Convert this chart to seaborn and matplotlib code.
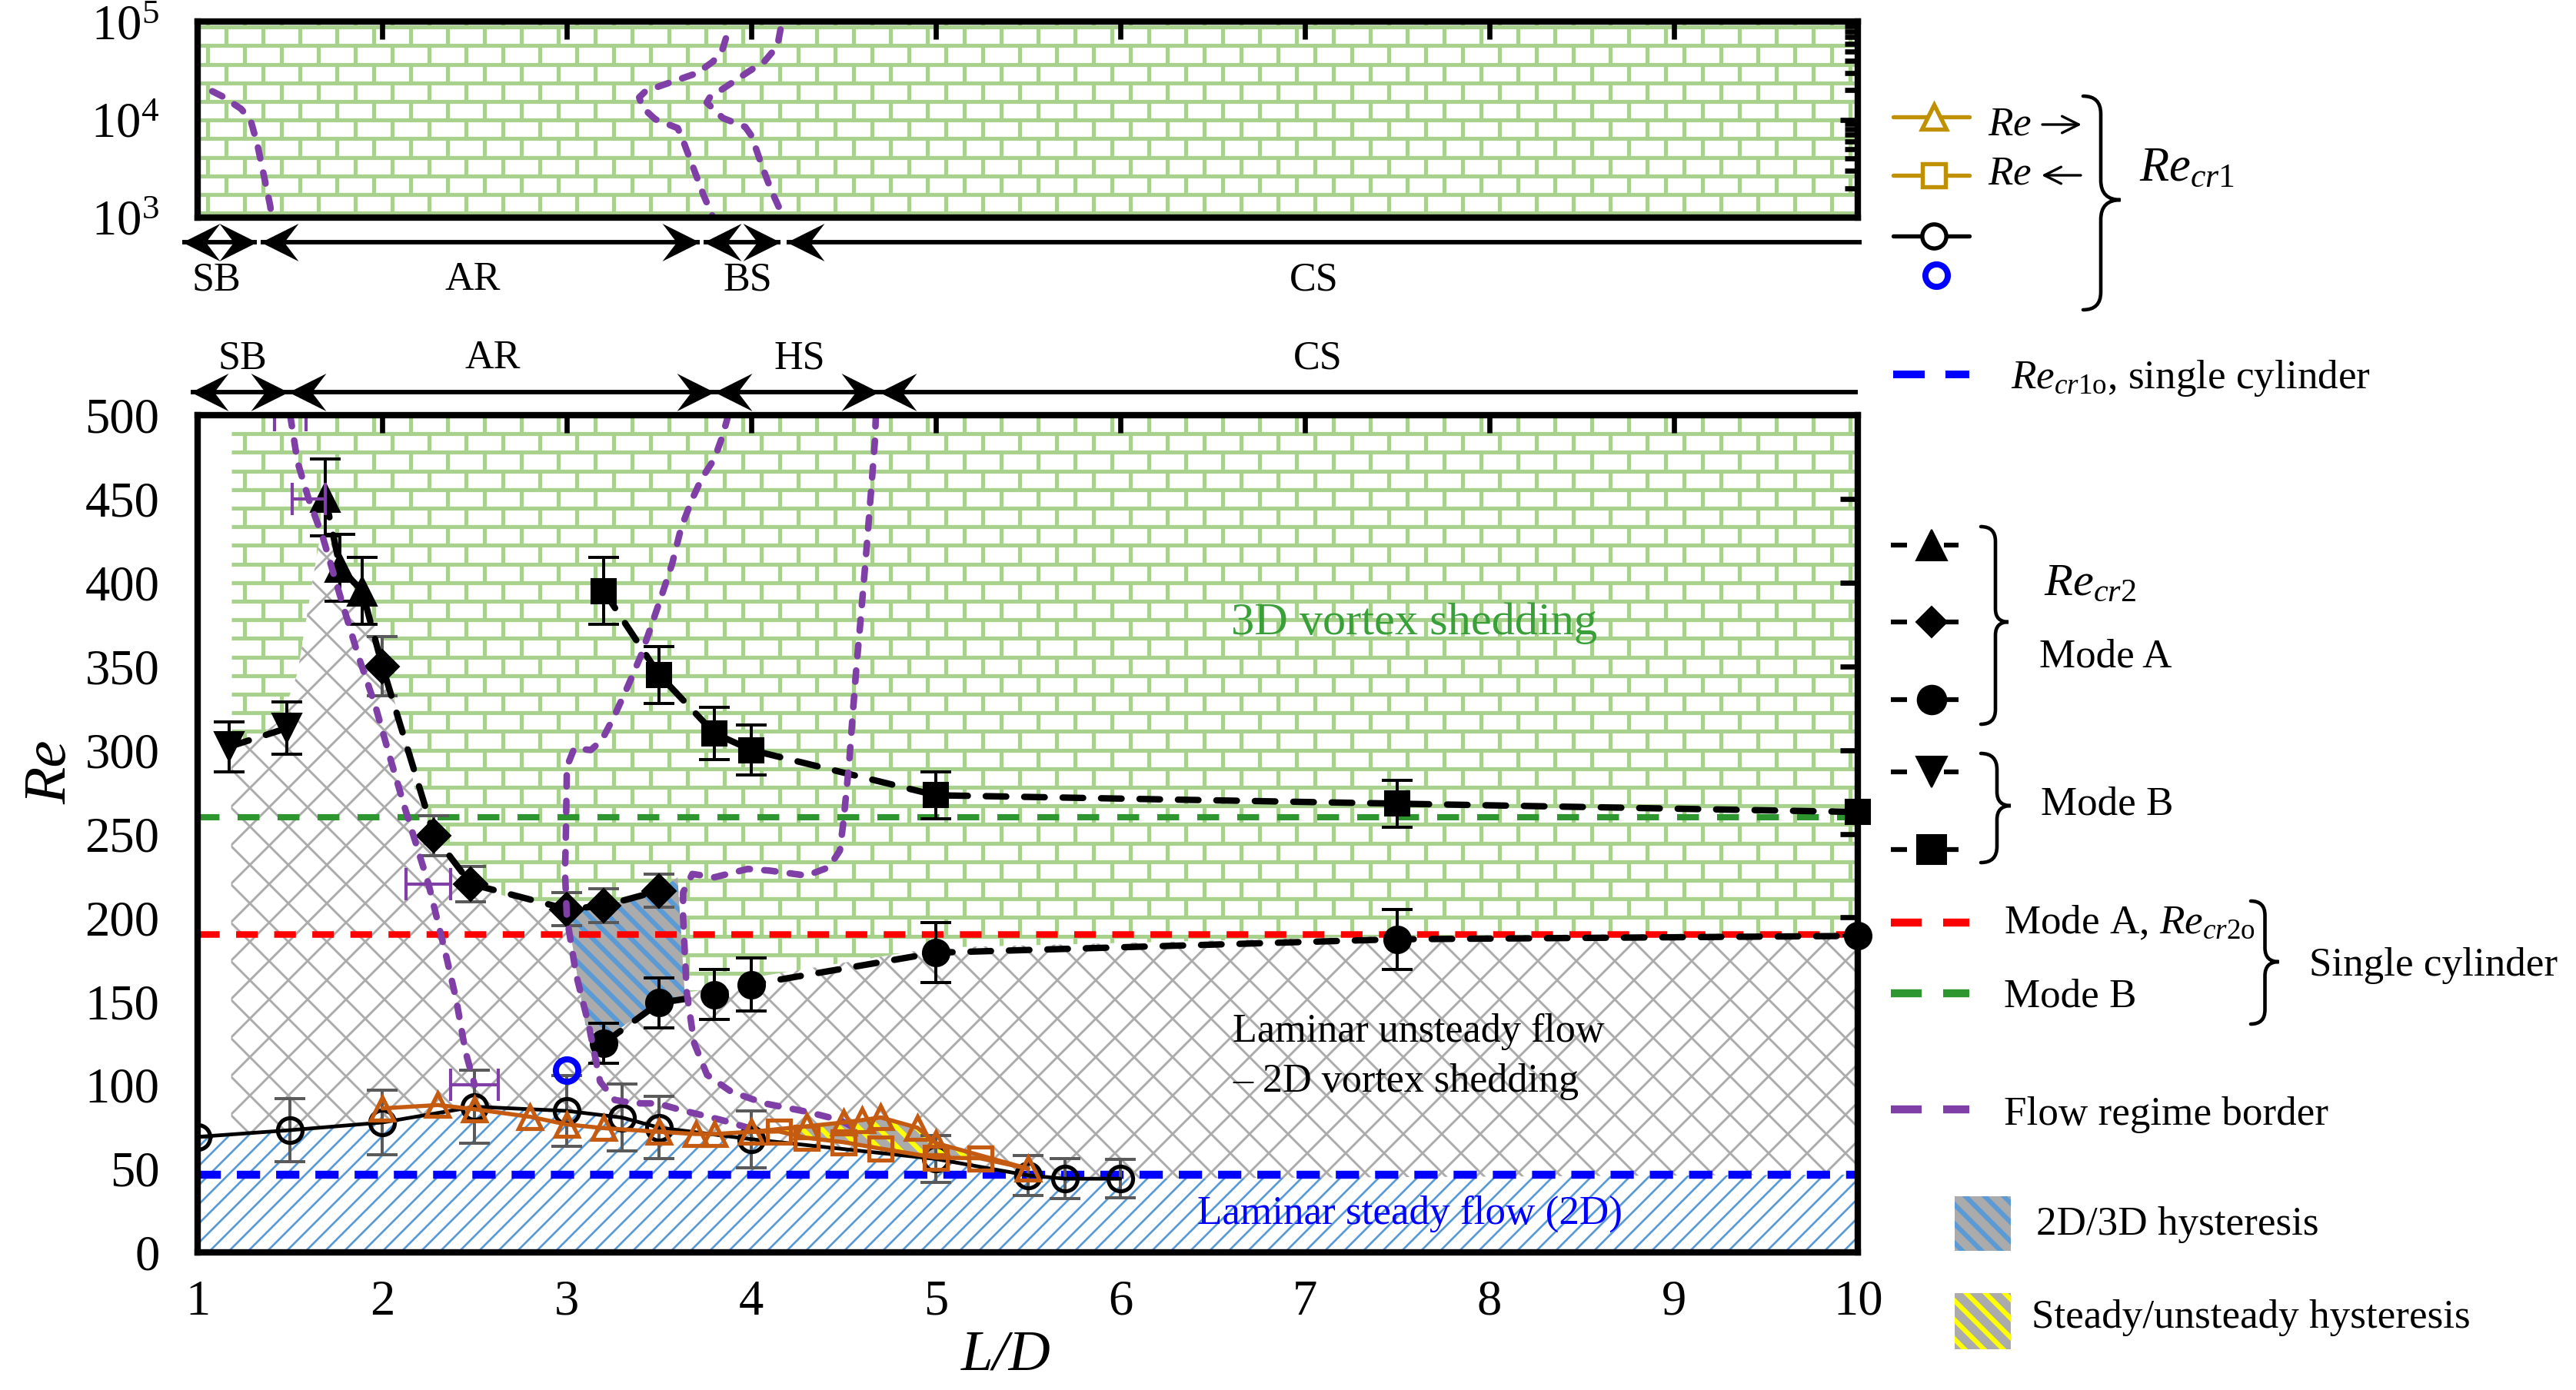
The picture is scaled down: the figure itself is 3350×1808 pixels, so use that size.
import numpy as np
import matplotlib
matplotlib.use("Agg")
import matplotlib.pyplot as plt
import seaborn as sns
from matplotlib.path import Path
from matplotlib.patches import Polygon, Rectangle, PathPatch
from matplotlib.collections import LineCollection
from matplotlib.markers import MarkerStyle
from matplotlib.ticker import LogLocator, NullFormatter

# ======================= DATA =======================
# Re_cr1 : onset of vortex shedding (black open circles)
cr1_x = [1.0, 1.5, 2.0, 2.5, 3.0, 3.3, 3.5, 4.0, 5.0, 5.5, 5.7, 6.0]
cr1_re = [69, 73, 77.6, 87, 84.5, 80.5, 74.5, 67.6, 55.8, 46, 44, 44]
cr1_err = [0, 19, 19.5, 22, 21, 20, 18.5, 17, 14, 12, 12, 11.5]
# Re increasing (open triangles)
up_x = [2.0, 2.3, 2.5, 2.8, 3.0, 3.2, 3.5, 3.7, 3.8, 4.0, 4.3, 4.5, 4.6, 4.7, 4.9, 5.0, 5.5]
up_re = [86, 88, 85.5, 81, 76.4, 74.2, 72, 70.7, 70.7, 72, 75.3, 77.6, 79, 80.6, 74.5, 65.3, 50]
# Re decreasing (open squares); first and last point shared with the triangle branch
down_x = [4.0, 4.15, 4.3, 4.5, 4.7, 5.0, 5.24, 5.5]
down_re = [72, 72.2, 68.4, 65.8, 62, 56.6, 56.2, 50]
# single-point Re_cr1 (blue open circle)
blue_x = [3.0]
blue_re = [109]

# Re_cr2 mode A
modeA_tri_x = [1.69, 1.77, 1.89]
modeA_tri_re = [451, 409, 395]
modeA_tri_err = [23, 20, 20]
modeA_dia_x = [2.0, 2.28, 2.48, 3.0, 3.2, 3.5]
modeA_dia_re = [350, 249, 220, 205, 207, 216]
modeA_dia_err = [17.6, 12, 10.5, 10, 10, 10]
modeA_cir_x = [3.2, 3.5, 3.8, 4.0, 5.0, 7.5, 10.0]
modeA_cir_re = [125, 149, 154, 160, 179, 187, 189]
modeA_cir_err = [12, 15, 15, 16, 18, 18, 0]
# Re_cr2 mode B
modeB_tri_x = [1.17, 1.48]
modeB_tri_re = [302, 313]
modeB_tri_err = [15, 15.7]
modeB_sq_x = [3.2, 3.5, 3.8, 4.0, 5.0, 7.5, 10.0]
modeB_sq_re = [395, 345, 310, 300, 273, 268, 263]
modeB_sq_err = [20, 17, 15.5, 15, 14, 14, 0]

# single cylinder references
re_cr1o = 46.5
re_modeA_o = 190
re_modeB_o = 260

# flow regime borders, main panel
border1_x = [1.50, 1.54, 1.60, 1.68, 1.76, 1.87, 1.96, 2.04, 2.12, 2.25, 2.35, 2.40, 2.45, 2.50]
border1_re = [500, 472, 450, 426, 396, 356, 327, 296, 266, 220, 175, 151, 120, 100]
border2_x = [3.875, 3.845, 3.80, 3.73, 3.68, 3.62, 3.57, 3.51, 3.46, 3.40, 3.33, 3.26, 3.19, 3.13,
             3.04, 3.00, 2.995, 2.99, 3.00, 3.05, 3.12, 3.16, 3.18, 3.26, 3.37, 3.49, 3.62, 3.73, 3.84, 3.98]
border2_re = [500, 488, 474, 462, 450, 433, 411, 391, 375, 356, 338, 321, 306, 300,
              301, 290, 252, 227, 200, 166, 135, 113, 102, 91, 89, 89, 85, 82, 79, 74.5]
border3_x = [4.675, 4.67, 4.65, 4.62, 4.59, 4.57, 4.55, 4.53, 4.50, 4.48, 4.42, 4.30, 4.10, 3.98, 3.80,
             3.68, 3.63, 3.63, 3.65, 3.69, 3.76, 3.89, 4.07, 4.30, 4.48, 4.58]
border3_re = [500, 485, 456, 414, 375, 350, 322, 292, 258, 240, 230, 225, 228, 229, 224,
              226, 215, 200, 155, 125, 106, 96, 89, 84, 79, 73]
border_err_x = [1.50, 1.60, 2.25, 2.50]
border_err_re = [500, 450, 220, 100]
border_err_dx = [0.085, 0.09, 0.12, 0.13]

# flow regime borders, top (high-Re) panel
topA_x = [1.078, 1.130, 1.234, 1.286, 1.321, 1.356, 1.391, 1.401]
topA_re = [19500, 17400, 12900, 9800, 5700, 2770, 1340, 1000]
topB_x = [3.862, 3.845, 3.793, 3.706, 3.566, 3.427, 3.392, 3.410, 3.479, 3.601, 3.636, 3.688, 3.740, 3.793]
topB_re = [67600, 53100, 39300, 29900, 24200, 19600, 16900, 13300, 10100, 8200, 5700, 3130, 1710, 1000]
topC_x = [4.158, 4.141, 4.071, 3.984, 3.880, 3.775, 3.758, 3.845, 3.967, 4.001, 4.054, 4.106, 4.175]
topC_re = [83400, 56400, 39300, 30900, 22800, 16900, 14960, 10400, 8430, 6830, 3520, 1930, 1000]

# upper boundary of the laminar unsteady (2D shedding) region
unsteady_top_x = [1.18, 1.34, 1.45, 1.54, 1.62, 1.66, 1.71, 1.76, 1.90, 1.98, 2.05, 2.12, 2.18, 2.28,
                  2.48, 2.66, 3.0, 3.1, 3.2, 3.5, 3.64, 3.8, 4.0, 5.0, 7.5, 10.0]
unsteady_top_re = [301, 309, 318, 346, 400, 426, 426, 411, 387, 371, 335, 309, 274, 249,
                   219, 213, 204, 136, 127, 150, 155, 158, 164, 182, 189, 191]
# 2D/3D hysteresis region
hyst_x = [3.0, 3.2, 3.5, 3.6, 3.64, 3.5, 3.2, 3.1]
hyst_re = [204, 207, 216, 224, 153, 150, 127, 136]

# regime ranges (L/D)
row1_names = ["SB", "AR", "BS", "CS"]
row1_spans = [(0.914, 1.32), (1.34, 3.72), (3.74, 4.16), (4.19, 10.02)]
row1_label_x = [1.10, 2.49, 3.98, 7.05]
row2_names = ["SB", "AR", "HS", "CS"]
row2_spans = [(0.96, 1.49), (1.49, 3.80), (3.80, 4.69), (4.69, 10.0)]
row2_label_x = [1.24, 2.60, 4.26, 7.07]

x_ticks = list(range(1, 11))
y_ticks = list(range(0, 501, 50))

# ======================= STYLE =======================
sns.set_theme(style="white")
plt.rcParams.update({
    "font.family": ["Liberation Serif", "DejaVu Serif"],
    "mathtext.fontset": "custom",
    "mathtext.rm": "Liberation Serif",
    "mathtext.it": "Liberation Serif:italic",
    "mathtext.bf": "Liberation Serif:bold",
    "axes.edgecolor": "black",
    "text.color": "black",
    "axes.labelcolor": "black",
    "xtick.color": "black",
    "ytick.color": "black",
    "hatch.linewidth": 1.4,
    "axes.linewidth": 4.0,
})

C_BRICK = "#A9D18E"
C_LATT = "#ABABAB"
C_BLUEH = "#5B9BD5"
C_ORANGE = "#C55A11"
C_GOLD = "#BF9000"
C_PURPLE = "#7F3FA6"
C_GREEN = "#2E962E"
C_GREY_ERR = "#595959"

DPI = 150
W, H = 3350, 1808
fig = plt.figure(figsize=(W / DPI, H / DPI), dpi=DPI)
fig.patch.set_facecolor("white")

AX_L, AX_R = 257.4, 2416.5
MAIN_T, MAIN_B = 540.0, 1629.0
TOP_T, TOP_B = 28.3, 283.0
ax = fig.add_axes([AX_L / W, 1 - MAIN_B / H, (AX_R - AX_L) / W, (MAIN_B - MAIN_T) / H])
axt = fig.add_axes([AX_L / W, 1 - TOP_B / H, (AX_R - AX_L) / W, (TOP_B - TOP_T) / H])
for a in (ax, axt):
    a.set_facecolor("white")
    for s in a.spines.values():
        s.set_linewidth(4.0)
        s.set_zorder(6)


def set_hatch_lw(artist, lw):
    if hasattr(artist, "set_hatch_linewidth"):
        try:
            artist.set_hatch_linewidth(lw)
        except Exception:
            pass


def draw_bricks(a, x0f, bw, bh, phase, ystart, lw, z):
    segs = []
    k = 0
    ytop = ystart
    if ystart < 1.0:
        xs = np.arange(phase + bw / 2 - bw * 60, 1.0001, bw)
        for x in xs:
            if x0f <= x <= 1:
                segs.append([(x, ystart), (x, 1.0)])
    while ytop > 0:
        ybot = max(ytop - bh, 0.0)
        segs.append([(x0f, ytop), (1.0, ytop)])
        off = phase + (bw / 2 if k % 2 else 0.0)
        xs = np.arange(off - bw * 60, 1.0001, bw)
        for x in xs:
            if x0f <= x <= 1:
                segs.append([(x, ybot), (x, ytop)])
        ytop -= bh
        k += 1
    lc = LineCollection(segs, colors=C_BRICK, linewidths=lw, transform=a.transAxes, zorder=z,
                        capstyle="butt")
    a.add_collection(lc, autolim=False)


# ======================= MAIN PANEL =======================
pw = AX_R - AX_L
ph = MAIN_B - MAIN_T
draw_bricks(ax, (1.18 - 1) / 9, 48 / pw, 24.2 / ph, 0.0171, 1.0, 2.5, 0.5)

# laminar unsteady region (grey lattice)
latt = Polygon(np.column_stack([unsteady_top_x + [10.0, 1.18], unsteady_top_re + [0, 0]]),
               closed=True, facecolor="white", edgecolor=C_LATT, lw=0, hatch="x", zorder=0.8)
set_hatch_lw(latt, 1.4)
ax.add_patch(latt)

# laminar steady region (blue diagonal hatch)
steady_x = cr1_x + [10.0, 10.0, 1.0]
steady_y = cr1_re + [re_cr1o, 0, 0]
blueh = Polygon(np.column_stack([steady_x, steady_y]), closed=True, facecolor="white",
                edgecolor=C_BLUEH, lw=0, hatch="//", zorder=0.9)
set_hatch_lw(blueh, 1.3)
ax.add_patch(blueh)

# 2D/3D hysteresis
hy = Polygon(np.column_stack([hyst_x, hyst_re]), closed=True, facecolor=C_LATT, edgecolor=C_BLUEH,
             lw=0, hatch="\\\\", zorder=1.0)
set_hatch_lw(hy, 3.0)
ax.add_patch(hy)

# steady/unsteady hysteresis
ys_x = up_x[up_x.index(4.0):] + down_x[::-1]
ys_y = up_re[up_x.index(4.0):] + down_re[::-1]
hy2 = Polygon(np.column_stack([ys_x, ys_y]), closed=True, facecolor=C_LATT, edgecolor="#FFFF00",
              lw=0, hatch="\\\\", zorder=1.0)
set_hatch_lw(hy2, 3.0)
ax.add_patch(hy2)

# single-cylinder reference lines
ax.axhline(re_modeB_o, color=C_GREEN, lw=3.9, ls=(0, (3.5, 2.9)), zorder=2)
ax.axhline(re_modeA_o, color="#FF0000", lw=4.1, ls=(0, (3.3, 2.5)), zorder=2)
ax.axhline(re_cr1o, color="#0000FF", lw=5.0, ls=(0, (2.9, 2.0)), zorder=2)

# flow regime borders
for bx, by in ((border1_x, border1_re), (border2_x, border2_re), (border3_x, border3_re)):
    ln, = ax.plot(bx, by, color=C_PURPLE, lw=4.1, zorder=4.5)
    ln.set_dashes((1.7, 2.2))
    ln.set_dash_capstyle("round")
ax.errorbar(border_err_x, border_err_re, xerr=border_err_dx, fmt="none", ecolor=C_PURPLE,
            elinewidth=2.0, capsize=10, capthick=2.0, zorder=4.5)

# Re_cr1 curves
ax.errorbar(cr1_x, cr1_re, yerr=cr1_err, fmt="none", ecolor=C_GREY_ERR, elinewidth=1.9,
            capsize=9.6, capthick=1.9, zorder=3.5)
sns.lineplot(x=cr1_x, y=cr1_re, ax=ax, color="black", linewidth=2.3, marker="o", markersize=15.4,
             markerfacecolor="none", markeredgecolor="black", markeredgewidth=2.5,
             sort=False, estimator=None, zorder=4)
sns.lineplot(x=up_x, y=up_re, ax=ax, color=C_ORANGE, linewidth=2.6, marker="^", markersize=14,
             markerfacecolor="none", markeredgecolor=C_ORANGE, markeredgewidth=2.5,
             sort=False, estimator=None, zorder=5)
sns.lineplot(x=down_x, y=down_re, ax=ax, color=C_ORANGE, linewidth=2.6, marker="s", markersize=14,
             markerfacecolor="none", markeredgecolor=C_ORANGE, markeredgewidth=2.5,
             markevery=list(range(1, len(down_x) - 1)), sort=False, estimator=None, zorder=5)
ax.plot(blue_x, blue_re, ls="none", marker="o", ms=14, mfc="none", mec="#0000FF", mew=3.8, zorder=5)

# Re_cr2 curves
ax.errorbar(modeA_tri_x, modeA_tri_re, yerr=modeA_tri_err, fmt="none", ecolor="black",
            elinewidth=1.9, capsize=9.6, capthick=1.9, zorder=3.5)
ax.errorbar(modeA_dia_x, modeA_dia_re, yerr=modeA_dia_err, fmt="none", ecolor=C_GREY_ERR,
            elinewidth=1.9, capsize=9.6, capthick=1.9, zorder=3.5)
ax.errorbar(modeA_cir_x, modeA_cir_re, yerr=modeA_cir_err, fmt="none", ecolor="black",
            elinewidth=1.9, capsize=9.6, capthick=1.9, zorder=3.5)
ax.errorbar(modeB_tri_x, modeB_tri_re, yerr=modeB_tri_err, fmt="none", ecolor="black",
            elinewidth=1.9, capsize=9.6, capthick=1.9, zorder=3.5)
ax.errorbar(modeB_sq_x, modeB_sq_re, yerr=modeB_sq_err, fmt="none", ecolor="black",
            elinewidth=1.9, capsize=9.6, capthick=1.9, zorder=3.5)

dash_k = (3.2, 2.8)
for lx, ly in ((modeA_tri_x + modeA_dia_x, modeA_tri_re + modeA_dia_re),
               (modeA_cir_x, modeA_cir_re), (modeB_tri_x, modeB_tri_re), (modeB_sq_x, modeB_sq_re)):
    ln, = ax.plot(lx, ly, color="black", lw=4.0, zorder=3.8, clip_on=False)
    ln.set_dashes(dash_k)
    ln.set_dash_capstyle("round")

ax.plot(modeA_tri_x, modeA_tri_re, ls="none", marker="^", ms=18, color="black", zorder=4)
ax.plot(modeA_dia_x, modeA_dia_re, ls="none", marker="D", ms=14.6, color="black", zorder=4)
ax.plot(modeA_cir_x, modeA_cir_re, ls="none", marker="o", ms=16.8, color="black", zorder=4, clip_on=False)
ax.plot(modeB_tri_x, modeB_tri_re, ls="none", marker="v", ms=18, color="black", zorder=4)
ax.plot(modeB_sq_x, modeB_sq_re, ls="none", marker="s", ms=15.8, color="black", zorder=4, clip_on=False)

# region texts
ax.text(7.595, 369, "3D vortex shedding", color="#39A039", fontsize=29, ha="center", va="baseline", zorder=6)
ax.text(6.61, 125.8, "Laminar unsteady flow", color="black", fontsize=25, ha="left", va="baseline", zorder=6)
ax.text(6.61, 96, "\u2013 2D vortex shedding", color="black", fontsize=25, ha="left", va="baseline", zorder=6)
ax.text(7.568, 17, "Laminar steady flow (2D)", color="#0000FF", fontsize=25.5, ha="center", va="baseline", zorder=6)

ax.set_xlim(1, 10)
ax.set_ylim(0, 500)
ax.set_xticks(x_ticks)
ax.set_yticks(y_ticks)
ax.set_xticklabels([str(v) for v in x_ticks])
ax.set_yticklabels([str(v) for v in y_ticks])
ax.tick_params(axis="both", which="both", direction="in", top=True, right=True, length=11, width=3.2,
               labelsize=31)
ax.tick_params(axis="x", pad=17)
ax.tick_params(axis="y", pad=24)
ax.set_xlabel("L/D", fontsize=36, fontstyle="italic")
ax.set_ylabel("Re", fontsize=38, fontstyle="italic")
ax.xaxis.set_label_coords(0.4865, -0.093)
ax.yaxis.set_label_coords(-0.072, 0.574)

# ======================= TOP PANEL =======================
draw_bricks(axt, 0.0, 48 / pw, 24.2 / (TOP_B - TOP_T), 0.0171, 1 - 7 / (TOP_B - TOP_T), 2.5, 0.5)
axt.set_yscale("log")
for bx, by in ((topA_x, topA_re), (topB_x, topB_re), (topC_x, topC_re)):
    ln, = axt.plot(bx, by, color=C_PURPLE, lw=4.1, zorder=4.5)
    ln.set_dashes((1.7, 2.2))
    ln.set_dash_capstyle("round")
axt.set_xlim(1, 10)
axt.set_ylim(1e3, 1e5)
axt.set_xticks(x_ticks)
axt.set_xticklabels([])
axt.yaxis.set_major_locator(LogLocator(base=10, numticks=5))
axt.yaxis.set_minor_locator(LogLocator(base=10, subs=np.arange(2, 10), numticks=20))
axt.yaxis.set_minor_formatter(NullFormatter())
axt.tick_params(axis="both", which="both", direction="in", top=True, right=True)
axt.tick_params(axis="x", length=11, width=3.2)
axt.tick_params(axis="y", which="major", length=11, width=3.2, labelsize=31, pad=24)
axt.tick_params(axis="y", which="minor", length=8, width=3.2)

# ======================= REGIME ARROWS =======================
HEAD_R = Path([(0, 0), (-1, 0.5), (-0.62, 0), (-1, -0.5), (0, 0)],
              [Path.MOVETO, Path.LINETO, Path.LINETO, Path.LINETO, Path.CLOSEPOLY])
HEAD_L = Path([(0, 0), (1, 0.5), (0.62, 0), (1, -0.5), (0, 0)],
              [Path.MOVETO, Path.LINETO, Path.LINETO, Path.LINETO, Path.CLOSEPOLY])


def regime_row(a, yline, ylab, spans, names, labx):
    tr = a.get_xaxis_transform()
    n = len(spans)
    for i, (x0, x1) in enumerate(spans):
        a.plot([x0, x1], [yline, yline], color="black", lw=2.8, transform=tr, clip_on=False,
               solid_capstyle="butt", zorder=7)
        a.plot([x0], [yline], marker=MarkerStyle(HEAD_L), ms=47, color="black", mew=0,
               transform=tr, clip_on=False, zorder=7)
        if i < n - 1:
            a.plot([x1], [yline], marker=MarkerStyle(HEAD_R), ms=47, color="black", mew=0,
                   transform=tr, clip_on=False, zorder=7)
    for nm, lx in zip(names, labx):
        a.text(lx, ylab, nm, transform=tr, fontsize=25, ha="center", va="center", clip_on=False)


tph = TOP_B - TOP_T
regime_row(axt, (TOP_B - 315) / tph, (TOP_B - 364) / tph, row1_spans, row1_names, row1_label_x)
regime_row(ax, (MAIN_B - 510) / ph, (MAIN_B - 466) / ph, row2_spans, row2_names, row2_label_x)

# ======================= LEGEND (pixel overlay) =======================
lax = fig.add_axes([0, 0, 1, 1], zorder=10)
lax.set_xlim(0, W)
lax.set_ylim(H, 0)
lax.axis("off")
lax.patch.set_alpha(0)


def brace(a, x0, xm, xt, y0, y1, yt, lw=2.2):
    r = xm - x0
    r2 = xt - xm
    verts = [(x0, y0), (xm, y0), (xm, y0 + r), (xm, yt - r2), (xm, yt), (xt, yt),
             (xm, yt), (xm, yt + r2), (xm, y1 - r), (xm, y1), (x0, y1)]
    codes = [Path.MOVETO, Path.CURVE3, Path.CURVE3, Path.LINETO, Path.CURVE3, Path.CURVE3,
             Path.CURVE3, Path.CURVE3, Path.LINETO, Path.CURVE3, Path.CURVE3]
    a.add_patch(PathPatch(Path(verts, codes), fill=False, lw=lw, ec="black", capstyle="round"))


def small_arrow(a, x0, x1, y):
    a.annotate("", xy=(x1, y), xytext=(x0, y),
               arrowprops=dict(arrowstyle="->", lw=1.6, color="black", mutation_scale=26,
                               shrinkA=0, shrinkB=0))


LFS = 25.5
# Re_cr1 group
lax.plot([2462, 2561], [152, 152], color=C_GOLD, lw=2.6)
lax.plot([2515], [152], marker="^", ms=15, mfc="white", mec=C_GOLD, mew=2.6)
lax.text(2585, 175, "$Re$", fontsize=LFS, va="baseline")
small_arrow(lax, 2656, 2707, 162)
lax.plot([2462, 2561], [228, 228], color=C_GOLD, lw=2.6)
lax.plot([2515], [228], marker="s", ms=14.5, mfc="white", mec=C_GOLD, mew=2.6)
lax.text(2585, 240, "$Re$", fontsize=LFS, va="baseline")
small_arrow(lax, 2706, 2655, 228)
lax.plot([2462, 2561], [307, 307], color="black", lw=2.6)
lax.plot([2515], [307], marker="o", ms=15, mfc="white", mec="black", mew=2.6)
lax.plot([2518], [358], marker="o", ms=14, mfc="white", mec="#0000FF", mew=3.8)
brace(lax, 2709, 2732, 2757.6, 125, 403, 260)
lax.text(2782, 235, "$Re_{cr1}$", fontsize=30, va="baseline")

lax.plot([2462, 2503], [487, 487], color="#0000FF", lw=4.8, solid_capstyle="butt")
lax.plot([2530, 2561], [487, 487], color="#0000FF", lw=4.8, solid_capstyle="butt")
lax.text(2615, 505, "$Re_{cr1\\mathrm{o}}$, single cylinder", fontsize=LFS, va="baseline")

# Re_cr2 group
for yy, mk, ms in ((708.5, "^", 19.5), (809, "D", 13.6), (910, "o", 18), (1004, "v", 19.5), (1104.5, "s", 18)):
    lax.plot([2459, 2480], [yy, yy], color="black", lw=3.0, solid_capstyle="butt")
    lax.plot([2528, 2547], [yy, yy], color="black", lw=3.0, solid_capstyle="butt")
    lax.plot([2512], [yy], marker=mk, ms=ms, color="black")
brace(lax, 2576, 2595, 2612, 685, 942, 809)
brace(lax, 2576, 2597, 2615, 980, 1122, 1048)
lax.text(2658, 774, "$Re_{cr2}$", fontsize=29, va="baseline")
lax.text(2651.5, 868, "Mode A", fontsize=LFS, va="baseline")
lax.text(2654.5, 1060, "Mode B", fontsize=LFS, va="baseline")

# single cylinder lines
for yy, col in ((1199.5, "#FF0000"), (1292, C_GREEN), (1443, C_PURPLE)):
    lax.plot([2459, 2499], [yy, yy], color=col, lw=5.0, solid_capstyle="butt")
    lax.plot([2527, 2561], [yy, yy], color=col, lw=5.0, solid_capstyle="butt")
lax.text(2606, 1214, "Mode A, $Re_{cr2\\mathrm{o}}$", fontsize=LFS, va="baseline")
lax.text(2606, 1310, "Mode B", fontsize=LFS, va="baseline")
brace(lax, 2927, 2945.5, 2963.6, 1172, 1332, 1251)
lax.text(3003, 1269, "Single cylinder", fontsize=LFS, va="baseline")
lax.text(2606, 1463, "Flow regime border", fontsize=LFS, va="baseline")

r1 = Rectangle((2542, 1556), 73, 71, facecolor=C_LATT, edgecolor=C_BLUEH, lw=0, hatch="\\\\")
set_hatch_lw(r1, 3.0)
lax.add_patch(r1)
lax.text(2648, 1606, "2D/3D hysteresis", fontsize=LFS, va="baseline")
r2 = Rectangle((2542, 1682), 73, 73, facecolor=C_LATT, edgecolor="#FFFF00", lw=0, hatch="\\\\")
set_hatch_lw(r2, 3.0)
lax.add_patch(r2)
lax.text(2642, 1727, "Steady/unsteady hysteresis", fontsize=LFS, va="baseline")

fig.savefig("out.png", dpi=DPI, facecolor="white")
